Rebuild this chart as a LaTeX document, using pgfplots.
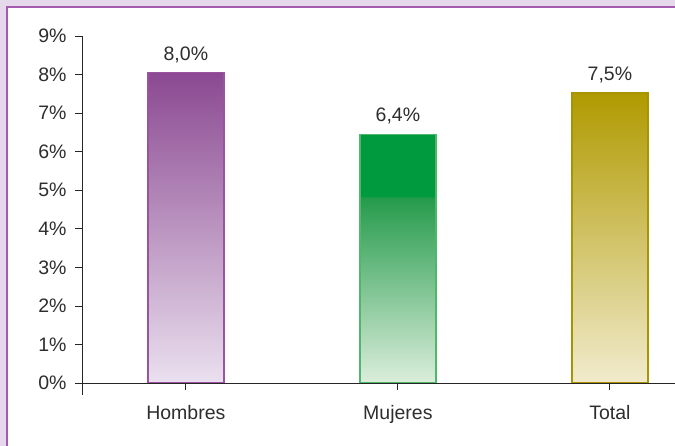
\documentclass[border=0pt]{standalone}
\usepackage{pgfplots}
\pgfplotsset{compat=1.18}
\usepackage{fontspec}
\setmainfont{Liberation Sans}
\definecolor{outerbg}{HTML}{E6D9EB}
\definecolor{frame}{HTML}{A55BAF}
\definecolor{txt}{HTML}{2E2E2E}
\definecolor{purtop}{HTML}{8B4991}
\definecolor{purbot}{HTML}{EAE0EF}
\definecolor{puredge}{HTML}{9A52A1}
\definecolor{grnsolid}{HTML}{009A3E}
\definecolor{grnmid}{HTML}{259B4C}
\definecolor{grnbot}{HTML}{DCEEDC}
\definecolor{grnedge}{HTML}{4DB86A}
\definecolor{oltop}{HTML}{B09A00}
\definecolor{olbot}{HTML}{F1EBCD}
\definecolor{oledge}{HTML}{A89400}
\pgfdeclareverticalshading{greenbar}{100bp}{color(0bp)=(grnbot); color(25bp)=(grnbot); color(62.2bp)=(grnmid); color(62.6bp)=(grnsolid); color(100bp)=(grnsolid)}
\begin{document}
\begin{tikzpicture}[x=1pt,y=1pt]
\useasboundingbox (0,0) rectangle (675,446);
\fill[outerbg] (0,0) rectangle (675,446);
\fill[white] (7,-10) rectangle (690,439);
\draw[frame, line width=2pt] (7,-10) -- (7,439) -- (690,439);
\begin{axis}[
  at={(82pt,51pt)}, anchor=south west,
  scale only axis,
  width=593.6pt, height=359pt,
  xmin=-0.49, xmax=2.31,
  ymin=-0.31, ymax=9,
  axis on top,
  axis y line=left,
  axis x line=middle,
  axis line style={-, black!85, line width=0.8pt},
  xtick={0,1,2},
  xticklabels={Hombres,Mujeres,Total},
  ytick={0,1,...,9},
  yticklabel={\pgfmathprintnumber{\tick}\%},
  tick align=outside,
  tick style={black!85, line width=0.8pt},
  major tick length=7pt,
  every tick label/.append style={font=\fontsize{19.5}{21}\selectfont, text=txt},
  xticklabel style={yshift=-12pt},
  yticklabel style={xshift=-5pt},
  /pgf/number format/assume math mode=true,
  ybar, bar width=76pt, bar shift=0pt,
  nodes near coords style={font=\fontsize{19.5}{21}\selectfont, text=txt, yshift=6pt},
  clip=false,
]
\addplot[ybar, bar shift=0pt, top color=purtop, bottom color=purbot, draw=puredge, line width=1.5pt,
  nodes near coords={8,0\%}] coordinates {(0,8.05)};
\addplot[ybar, bar shift=0pt, shading=greenbar, draw=grnedge, line width=1.5pt,
  nodes near coords={6,4\%}] coordinates {(1,6.45)};
\addplot[ybar, bar shift=0pt, top color=oltop, bottom color=olbot, draw=oledge, line width=1.5pt,
  nodes near coords={7,5\%}] coordinates {(2,7.52)};
\end{axis}
\end{tikzpicture}
\end{document}
